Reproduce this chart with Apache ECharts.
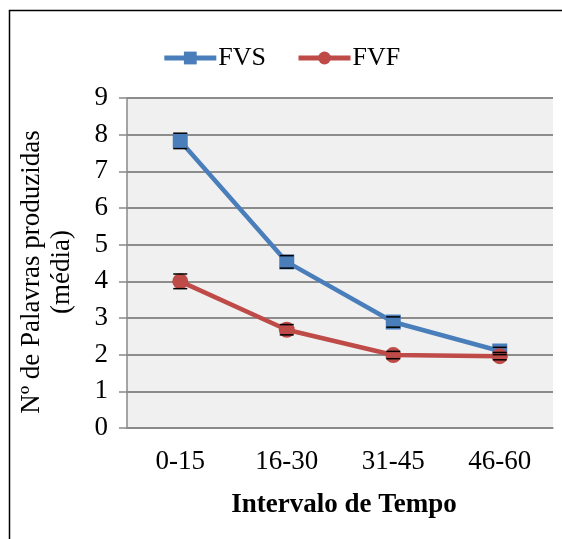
<!DOCTYPE html>
<html>
<head>
<meta charset="utf-8">
<script src="https://cdn.jsdelivr.net/npm/echarts@6/dist/echarts.min.js"></script>
<style>
  html, body { margin: 0; padding: 0; background: #fff; }
  #chart { width: 562px; height: 539px; }
</style>
</head>
<body>
<div id="chart"></div>
<script>
// dados
const categorias = ['0-15', '16-30', '31-45', '46-60']
const fvs = [7.83, 4.53, 2.89, 2.1]
const fvsErro = [0.21, 0.17, 0.14, 0.1]
const fvf = [4.0, 2.68, 1.99, 1.96]
const fvfErro = [0.2, 0.14, 0.1, 0.1]

const serif = 'Liberation Serif, Times New Roman, serif'

function errorSeries(values, errs, z) {
  return {
    type: 'custom',
    z: z,
    silent: true,
    data: values.map((v, i) => [i, v - errs[i], v + errs[i]]),
    renderItem(params, api) {
      const lo = api.coord([api.value(0), api.value(1)])
      const hi = api.coord([api.value(0), api.value(2)])
      const w = 7
      const style = { stroke: '#000', lineWidth: 1.5 }
      return {
        type: 'group',
        children: [
          { type: 'line', shape: { x1: lo[0] - w, y1: lo[1], x2: lo[0] + w, y2: lo[1] }, style },
          { type: 'line', shape: { x1: hi[0] - w, y1: hi[1], x2: hi[0] + w, y2: hi[1] }, style }
        ]
      }
    }
  }
}

const option = {
  animation: false,
  backgroundColor: '#fff',
  graphic: [{
    type: 'rect',
    shape: { x: 9.5, y: 10.5, width: 600, height: 600 },
    style: { fill: 'none', stroke: '#000', lineWidth: 1.5 }
  }],
  legend: {
    top: 40,
    left: 'center',
    itemWidth: 52,
    itemHeight: 16,
    itemGap: 30,
    lineStyle: { width: 5 },
    textStyle: { fontFamily: serif, fontSize: 26, color: '#000', padding: [0, 0, 0, -3] },
    data: ['FVS', 'FVF']
  },
  grid: { left: 127, right: 9, top: 98, bottom: 111 },
  xAxis: {
    type: 'category',
    data: categorias,
    axisLine: { lineStyle: { color: '#888', width: 1.5 } },
    axisTick: { length: 7, lineStyle: { color: '#888', width: 1.5 } },
    axisLabel: { fontFamily: serif, fontSize: 27, color: '#000', margin: 20 },
    name: 'Intervalo de Tempo',
    nameLocation: 'middle',
    nameGap: 64,
    nameTextStyle: { fontFamily: serif, fontSize: 27, fontWeight: 'bold', color: '#000', padding: [0, 0, 0, 8] }
  },
  yAxis: {
    type: 'value',
    min: 0,
    max: 9,
    interval: 1,
    axisLine: { show: true, lineStyle: { color: '#888', width: 1.5 } },
    axisTick: { show: true, length: 8, lineStyle: { color: '#888', width: 1.5 } },
    axisLabel: { fontFamily: serif, fontSize: 27, color: '#000', margin: 19 },
    splitLine: { lineStyle: { color: '#8c8c8c', width: 2 } },
    splitArea: { show: true, areaStyle: { color: ['#f0f0f0', '#f0f0f0'] } },
    name: 'Nº de Palavras produzidas\n(média)',
    nameLocation: 'middle',
    nameGap: 50,
    nameTextStyle: { fontFamily: serif, fontSize: 27, color: '#000', lineHeight: 30, padding: [0, 0, 0, -18] }
  },
  series: [
    {
      name: 'FVS',
      type: 'line',
      data: fvs,
      z: 3,
      symbol: 'rect',
      symbolSize: 15,
      color: '#4a7ebb',
      lineStyle: { width: 4.5, color: '#4a7ebb' },
      itemStyle: { color: '#4a7ebb' }
    },
    {
      name: 'FVF',
      type: 'line',
      data: fvf,
      z: 3,
      symbol: 'circle',
      symbolSize: 16,
      color: '#be4b48',
      lineStyle: { width: 4.5, color: '#be4b48' },
      itemStyle: { color: '#be4b48' }
    },
    errorSeries(fvs, fvsErro, 4),
    errorSeries(fvf, fvfErro, 4)
  ]
}

const chart = echarts.init(document.getElementById('chart'))
chart.setOption(option)
</script>
</body>
</html>
